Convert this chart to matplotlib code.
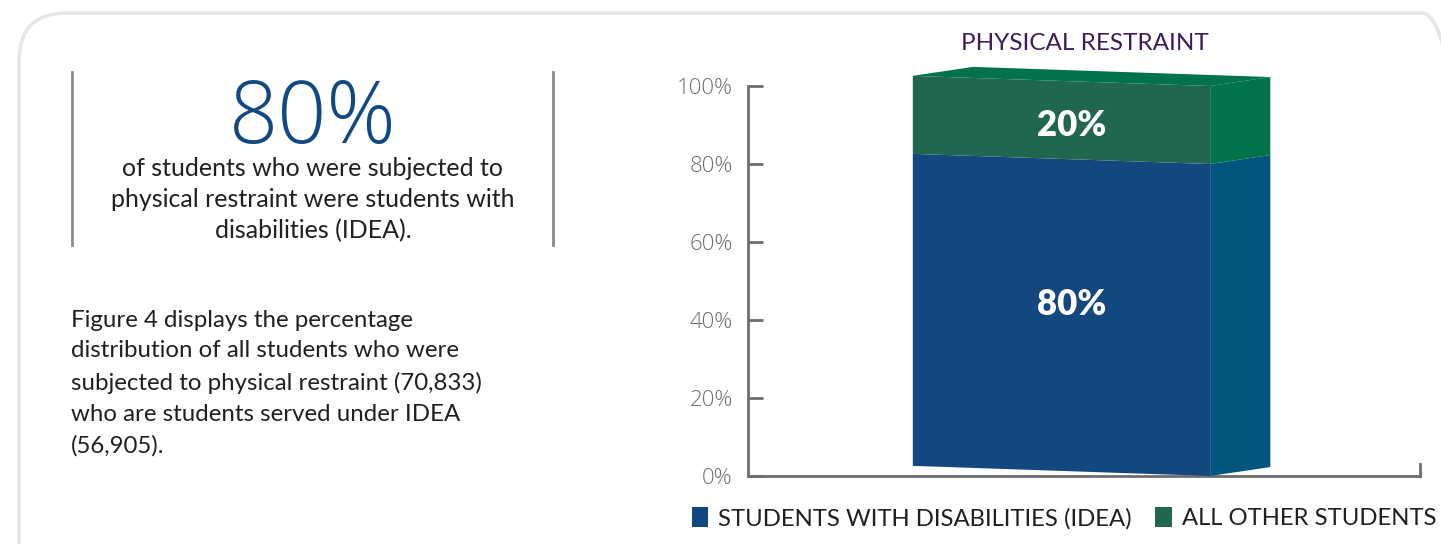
import matplotlib.pyplot as plt
from matplotlib.patches import FancyBboxPatch, Polygon
from matplotlib.ticker import FuncFormatter

# datos
categoria = "PHYSICAL RESTRAINT"
grupos = ["STUDENTS WITH DISABILITIES (IDEA)", "ALL OTHER STUDENTS"]
porcentajes = [80, 20]
destacado = "80%"
subtitulo = "of students who were subjected to\nphysical restraint were students with\ndisabilities (IDEA)."
parrafo = ("Figure 4 displays the percentage\ndistribution of all students who were\n"
           "subjected to physical restraint (70,833)\nwho are students served under IDEA\n(56,905).")
yticks = [0, 20, 40, 60, 80, 100]

# colores (frente, lado)
col_frente = ["#12477f", "#21664e"]
col_lado = ["#02557f", "#00734b"]
col_tapa = "#00734b"
gris = "#6d6e71"

plt.rcParams['font.family'] = ['Lato', 'DejaVu Sans']

fig = plt.figure(figsize=(14.41, 5.44), dpi=100)

# marco redondeado de fondo
marco = FancyBboxPatch((0.19, -0.5), 14.51, 5.81, boxstyle="round,pad=0,rounding_size=0.48",
                       transform=fig.dpi_scale_trans, fc="none", ec="#e6e6e6", lw=2.5, zorder=-1)
fig.patches.append(marco)

# barras verticales del recuadro
for xl in [72, 553]:
    fig.add_artist(plt.Line2D([xl / 1441, xl / 1441], [1 - 72 / 544, 1 - 245 / 544],
                              color="#8a8a8a", lw=2))

fig.text(313 / 1441, 1 - 121 / 544, destacado, ha="center", va="center",
         fontsize=62, color="#114a82", family=["Open Sans", "DejaVu Sans"], fontweight="light")
fig.text(313 / 1441, 1 - 200 / 544, subtitulo, ha="center", va="center",
         fontsize=18, color="#231f20", linespacing=1.42)
fig.text(71 / 1441, 1 - 383 / 544, parrafo, ha="left", va="center",
         fontsize=17.3, color="#231f20", linespacing=1.58)

# grafico
ax = fig.add_axes([748 / 1441, 68 / 544, 672 / 1441, 390 / 544])
ax.set_xlim(-0.933, 1.067)
ax.set_ylim(0, 100)

ancho = 0.885
prof = 0.179       # profundidad lateral
sesgo = 2.6        # el borde izquierdo sube un poco
sube = 2.3         # el lado de atras sube un poco
xl, xr = -ancho / 2, ancho / 2

base = 0
pos_etiqueta = [44, 90]
for i, v in enumerate(porcentajes):
    arriba = base + v
    frente = Polygon([(xl, base + sesgo), (xr, base), (xr, arriba), (xl, arriba + sesgo)],
                     closed=True, fc=col_frente[i], ec="none", clip_on=False, zorder=3)
    lado = Polygon([(xr, base), (xr + prof, base + sube), (xr + prof, arriba + sube), (xr, arriba)],
                   closed=True, fc=col_lado[i], ec="none", clip_on=False, zorder=3)
    ax.add_patch(frente)
    ax.add_patch(lado)
    ax.text(0.03, pos_etiqueta[i], f"{v}%", ha="center", va="center", color="white",
            fontsize=25, fontweight="heavy", zorder=4)
    ax.bar(0, 0, color=col_frente[i], label=grupos[i])
    base = arriba

tapa = Polygon([(xl, base + sesgo), (xl + prof, base + sesgo + sube), (xr + prof, base + sube), (xr, base)],
               closed=True, fc=col_tapa, ec="none", clip_on=False, zorder=3)
ax.add_patch(tapa)

ax.set_title(categoria, color="#3e1d5a", fontsize=17.5, pad=26, x=0.502)

for s in ["top", "right"]:
    ax.spines[s].set_visible(False)
for s in ["left", "bottom"]:
    ax.spines[s].set_color(gris)
    ax.spines[s].set_linewidth(2)
ax.set_xticks([])
ax.set_yticks(yticks)
ax.yaxis.set_major_formatter(FuncFormatter(lambda v, p: f"{v:.0f}%"))
ax.tick_params(axis="y", direction="in", length=11, width=2, color=gris,
               labelcolor=gris, labelsize=16, pad=11)
for t in ax.get_yticklabels():
    t.set_family(["Open Sans", "DejaVu Sans"])
    t.set_fontweight("light")
ax.plot([1, 1], [0, 0.03], transform=ax.transAxes, color=gris, lw=2, clip_on=False)

ax.legend(loc="upper center", bbox_to_anchor=(0.47, -0.025), ncol=2, frameon=False,
          fontsize=17.2, handlelength=0.7, handleheight=0.9, handletextpad=0.4,
          columnspacing=1.0, labelcolor="#231f20")

fig.savefig("out.png", dpi=100)
